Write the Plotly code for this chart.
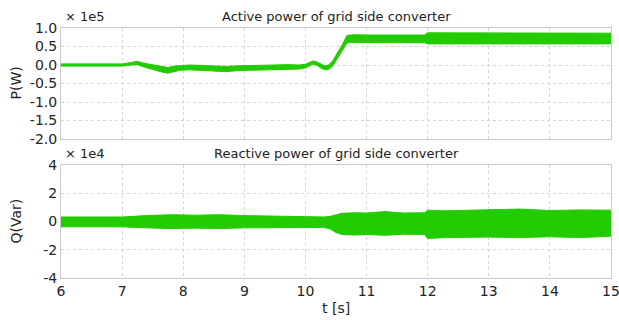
import plotly.graph_objects as go

# ---- data ----
# Active power envelope, units of 1e5 W
p_time  = [6.0, 6.5, 7.0, 7.15, 7.25, 7.35, 7.45, 7.55, 7.65, 7.75, 7.85, 7.95, 8.1, 8.3, 8.5, 8.7, 8.9,
           9.1, 9.3, 9.5, 9.7, 9.9, 10.0, 10.06, 10.12, 10.18, 10.25, 10.32, 10.38, 10.45, 10.52, 10.6,
           10.68, 10.8, 11.0, 11.3, 11.6, 11.95, 12.0, 12.5, 13.0, 13.5, 14.0, 14.5, 15.0]
p_upper = [0.03, 0.02, 0.03, 0.07, 0.10, 0.05, 0.02, -0.01, -0.03, -0.07, -0.03, -0.01, 0.00, -0.01, -0.02, -0.04, -0.02,
           -0.02, -0.01, 0.00, 0.01, 0.00, 0.02, 0.07, 0.11, 0.09, 0.02, -0.03, 0.00, 0.12, 0.32, 0.54,
           0.80, 0.82, 0.81, 0.81, 0.81, 0.81, 0.87, 0.87, 0.86, 0.87, 0.86, 0.88, 0.86]
p_lower = [-0.03, -0.04, -0.03, 0.00, 0.01, -0.05, -0.10, -0.15, -0.19, -0.22, -0.18, -0.14, -0.13, -0.14, -0.15, -0.18, -0.15,
           -0.14, -0.13, -0.12, -0.11, -0.11, -0.08, -0.02, 0.02, 0.00, -0.08, -0.13, -0.12, -0.02, 0.18, 0.38,
           0.60, 0.61, 0.61, 0.60, 0.61, 0.60, 0.57, 0.57, 0.58, 0.57, 0.58, 0.57, 0.57]

# Reactive power envelope, units of 1e4 Var
q_time  = [6.0, 6.5, 7.0, 7.4, 7.8, 8.2, 8.6, 9.0, 9.5, 10.0, 10.3, 10.4, 10.5, 10.6, 10.8, 11.0, 11.3,
           11.6, 11.95, 12.0, 12.3, 12.7, 13.0, 13.5, 14.0, 14.5, 15.0]
q_upper = [0.32, 0.30, 0.32, 0.42, 0.48, 0.45, 0.48, 0.42, 0.38, 0.33, 0.32, 0.36, 0.46, 0.58, 0.62, 0.60, 0.70,
           0.60, 0.62, 0.80, 0.76, 0.80, 0.78, 0.88, 0.78, 0.82, 0.80]
q_lower = [-0.38, -0.36, -0.38, -0.45, -0.50, -0.47, -0.50, -0.45, -0.42, -0.40, -0.42, -0.52, -0.78, -0.92, -0.96, -0.92, -0.98,
           -0.90, -0.92, -1.20, -1.14, -1.12, -1.10, -1.14, -1.08, -1.14, -1.04]

x_ticks = [6, 7, 8, 9, 10, 11, 12, 13, 14, 15]
p_ticks = [1.0, 0.5, 0.0, -0.5, -1.0, -1.5, -2.0]
q_ticks = [4, 2, 0, -2, -4]

GREEN = "#22cc00"
FONT = "DejaVu Sans"

fig = go.Figure()

def band(t, up, lo, xa, ya):
    fig.add_trace(go.Scatter(x=t, y=up, mode="lines", line=dict(color=GREEN, width=1),
                             xaxis=xa, yaxis=ya, showlegend=False, hoverinfo="skip"))
    fig.add_trace(go.Scatter(x=t, y=lo, mode="lines", line=dict(color=GREEN, width=1),
                             fill="tonexty", fillcolor=GREEN,
                             xaxis=xa, yaxis=ya, showlegend=False, hoverinfo="skip"))

band(p_time, p_upper, p_lower, "x", "y")
band(q_time, q_upper, q_lower, "x2", "y2")

frame = dict(showline=True, linecolor="#c8c8c8", linewidth=1, mirror=True,
             showgrid=True, gridcolor="#d4d4d4", griddash="dot", gridwidth=1,
             zeroline=False, ticks="", ticklabeloverflow="allow", automargin=False,
             tickfont=dict(family=FONT, size=14, color="#222"))

fig.update_layout(
    width=619, height=320, autosize=False,
    margin=dict(l=61, r=8, t=28, b=42, autoexpand=False),
    paper_bgcolor="white", plot_bgcolor="white",
    font=dict(family=FONT, color="#222"),
    xaxis=dict(domain=[0, 1], anchor="y", range=[6, 15], tickvals=x_ticks, showticklabels=False, **frame),
    yaxis=dict(domain=[0.556, 1], anchor="x", range=[-2.0, 1.0], tickvals=p_ticks,
               ticktext=[f"{v:.1f}" for v in p_ticks], **frame),
    xaxis2=dict(domain=[0, 1], anchor="y2", range=[6, 15], tickvals=x_ticks,
                ticktext=[str(v) for v in x_ticks], **frame),
    yaxis2=dict(domain=[0, 0.452], anchor="x2", range=[-4, 4], tickvals=q_ticks,
                ticktext=[str(v) for v in q_ticks], **frame),
)

annots = [
    dict(text="Active power of grid side converter", x=0.5, y=1.0, xref="paper", yref="paper",
         xanchor="center", yanchor="bottom", yshift=2, font=dict(size=13)),
    dict(text="Reactive power of grid side converter", x=0.5, y=0.452, xref="paper", yref="paper",
         xanchor="center", yanchor="bottom", yshift=2, font=dict(size=13)),
    dict(text="× 1e5", x=0.0, y=1.0, xref="paper", yref="paper",
         xanchor="left", yanchor="bottom", xshift=2, yshift=2, font=dict(size=13)),
    dict(text="× 1e4", x=0.0, y=0.452, xref="paper", yref="paper",
         xanchor="left", yanchor="bottom", xshift=2, yshift=2, font=dict(size=13)),
    dict(text="P(W)", x=0.0, y=0.778, xref="paper", yref="paper", textangle=-90,
         xanchor="center", yanchor="middle", xshift=-46, font=dict(size=14)),
    dict(text="Q(Var)", x=0.0, y=0.226, xref="paper", yref="paper", textangle=-90,
         xanchor="center", yanchor="middle", xshift=-46, font=dict(size=14)),
    dict(text="t [s]", x=0.5, y=0.0, xref="paper", yref="paper",
         xanchor="center", yanchor="top", yshift=-20, font=dict(size=14)),
]
for a in annots:
    a["showarrow"] = False
fig.update_layout(annotations=annots)

fig.write_html("out.html", config={"responsive": False})
